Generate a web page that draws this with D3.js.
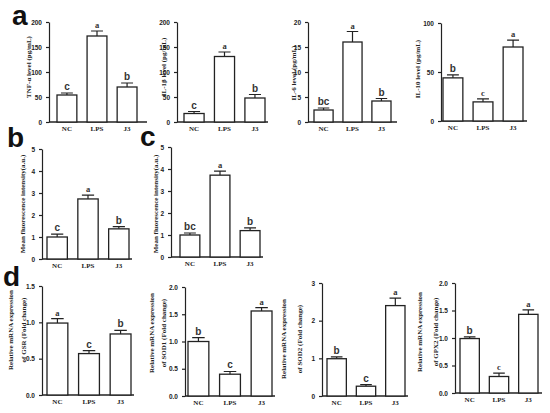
<!DOCTYPE html>
<html>
<head>
<meta charset="utf-8">
<script src="https://cdn.jsdelivr.net/npm/d3@7"></script>
<style>
  body { margin: 0; background: #fff; }
  svg { display: block; }
  .tick text { font-family: "Liberation Sans", Arial, sans-serif; font-weight: bold; font-size: 6.5px; fill: #222; }
  .domain, .tick line { stroke: #222; stroke-width: 1.2px; }
</style>
</head>
<body>
<div id="chart"></div>
<script>
// groups on every x axis
const groups = ['NC', 'LPS', 'J3']

// panel a: cytokines
const tnfMean = [54, 172, 70]
const tnfErr = [4, 10, 8]
const tnfSig = ['c', 'a', 'b']

const il1bMean = [17, 131, 48]
const il1bErr = [4, 9, 7]
const il1bSig = ['c', 'a', 'b']

const il6Mean = [2.4, 16, 4.2]
const il6Err = [0.4, 2.1, 0.5]
const il6Sig = ['bc', 'a', 'b']

const il10Mean = [44, 19.5, 75.5]
const il10Err = [3, 3, 7]
const il10Sig = ['b', 'c', 'a']

// panels b and c: fluorescence
const fluoBMean = [1.0, 2.73, 1.37]
const fluoBErr = [0.13, 0.17, 0.1]
const fluoBSig = ['c', 'a', 'b']

const fluoCMean = [1.0, 3.72, 1.2]
const fluoCErr = [0.09, 0.18, 0.12]
const fluoCSig = ['bc', 'a', 'b']

// panel d: mRNA
const gsrMean = [0.99, 0.57, 0.84]
const gsrErr = [0.06, 0.04, 0.05]
const gsrSig = ['a', 'c', 'b']

const sod1Mean = [1.0, 0.4, 1.56]
const sod1Err = [0.07, 0.05, 0.06]
const sod1Sig = ['b', 'c', 'a']

const sod2Mean = [0.99, 0.26, 2.4]
const sod2Err = [0.05, 0.04, 0.2]
const sod2Sig = ['b', 'c', 'a']

const gpx2Mean = [0.99, 0.3, 1.43]
const gpx2Err = [0.03, 0.06, 0.08]
const gpx2Sig = ['b', 'c', 'a']

// y tick values
const ticks200 = [0, 50, 100, 150, 200]
const ticks20 = [0, 5, 10, 15, 20]
const ticks100 = [0, 50, 100]
const ticks5 = [0, 1, 2, 3, 4, 5]
const ticks15 = [0, 0.5, 1.0, 1.5]
const ticks2 = [0, 0.5, 1.0, 1.5, 2.0]
const ticks3 = [0, 1, 2, 3]

// layout of each panel (pixels)
const panels = [
  { mean: tnfMean, err: tnfErr, sig: tnfSig, max: 200, ticks: ticks200, fmt: 'd',
    ax: 49, axEnd: 147, b0: 57, b1: 137, yTop: 22, yBot: 122,
    title: ['TNF-α level (pg/mL)'], tx: 29, ty: 67, lh: 0, serif: 'a' },
  { mean: il1bMean, err: il1bErr, sig: il1bSig, max: 200, ticks: ticks200, fmt: 'd',
    ax: 177, axEnd: 268, b0: 184, b1: 265, yTop: 22, yBot: 122,
    title: ['IL-1β level (pg/mL)'], tx: 164, ty: 67, lh: 0, serif: 'a' },
  { mean: il6Mean, err: il6Err, sig: il6Sig, max: 20, ticks: ticks20, fmt: 'd',
    ax: 308, axEnd: 397, b0: 314, b1: 391, yTop: 22, yBot: 122,
    title: ['IL-6 level (pg/mL)'], tx: 294, ty: 73, lh: 0, serif: 'a' },
  { mean: il10Mean, err: il10Err, sig: il10Sig, max: 100, ticks: ticks100, fmt: 'd',
    ax: 441, axEnd: 527, b0: 443, b1: 523, yTop: 23, yBot: 121,
    title: ['IL-10 level (pg/mL)'], tx: 418, ty: 69, lh: 0, serif: 'ac' },
  { mean: fluoBMean, err: fluoBErr, sig: fluoBSig, max: 5, ticks: ticks5, fmt: 'd',
    ax: 42, axEnd: 132, b0: 47, b1: 129, yTop: 149, yBot: 259,
    title: ['Mean fluorescence intensity(a.u.)'], tx: 23, ty: 204, lh: 0, serif: 'a' },
  { mean: fluoCMean, err: fluoCErr, sig: fluoCSig, max: 5, ticks: ticks5, fmt: 'd',
    ax: 171, axEnd: 263, b0: 180, b1: 260, yTop: 147, yBot: 257,
    title: ['Mean fluorescence intensity(a.u.)'], tx: 156, ty: 204, lh: 0, serif: 'a' },
  { mean: gsrMean, err: gsrErr, sig: gsrSig, max: 1.5, ticks: ticks15, fmt: '.1f',
    ax: 42, axEnd: 134, b0: 47, b1: 131, yTop: 286, yBot: 395,
    title: ['Relative mRNA expression', 'of GSR (Fold change)'], tx: 17, ty: 330, lh: 13, serif: 'a' },
  { mean: sod1Mean, err: sod1Err, sig: sod1Sig, max: 2, ticks: ticks2, fmt: '.1f',
    ax: 185, axEnd: 275, b0: 188, b1: 272, yTop: 287, yBot: 396,
    title: ['Relative mRNA expression', 'of SOD1 (Fold change)'], tx: 158, ty: 333, lh: 12, serif: 'a' },
  { mean: sod2Mean, err: sod2Err, sig: sod2Sig, max: 3, ticks: ticks3, fmt: 'd',
    ax: 322, axEnd: 408, b0: 327, b1: 405, yTop: 283, yBot: 396,
    title: ['Relative mRNA expression', 'of SOD2 (Fold change)'], tx: 292, ty: 339, lh: 16, serif: 'a' },
  { mean: gpx2Mean, err: gpx2Err, sig: gpx2Sig, max: 2, ticks: ticks2, fmt: '.1f',
    ax: 455, axEnd: 542, b0: 460, b1: 538, yTop: 283, yBot: 393,
    title: ['Relative mRNA expression', 'of GPX2 (Fold change)'], tx: 428, ty: 332, lh: 16, serif: 'ac' }
]

const letters = [
  { t: 'a', x: 12, y: 25 },
  { t: 'b', x: 7, y: 147 },
  { t: 'c', x: 140, y: 146 },
  { t: 'd', x: 3, y: 286 }
]

const SANS = '"Liberation Sans", Arial, sans-serif'
const SERIF = '"Liberation Serif", "Times New Roman", serif'

const svg = d3.select('#chart').append('svg')
    .attr('width', 550)
    .attr('height', 413)

function drawPanel (p) {
  const g = svg.append('g')
  const y = d3.scaleLinear().domain([0, p.max]).range([p.yBot, p.yTop])
  const x = d3.scaleBand().domain(groups).range([p.b0, p.b1]).paddingInner(0.34)
  const rows = groups.map((k, i) => ({ k, m: p.mean[i], e: p.err[i], s: p.sig[i] }))
  const isSerif = s => s.length === 1 && p.serif.includes(s)

  // y axis
  g.append('g')
      .attr('transform', `translate(${p.ax},0)`)
      .call(d3.axisLeft(y).tickValues(p.ticks).tickSize(3).tickSizeOuter(0).tickFormat(d3.format(p.fmt)))
      .call(a => a.selectAll('.tick text').attr('dx', '-1'))

  // x axis line
  g.append('line')
      .attr('x1', p.ax).attr('x2', p.axEnd)
      .attr('y1', y(0)).attr('y2', y(0))
      .attr('stroke', '#222').attr('stroke-width', 1.3)

  // error bars (drawn first so the bar outline sits on top)
  const cap = x.bandwidth() * 0.6
  g.selectAll('.err')
    .data(rows)
    .join('path')
      .attr('class', 'err')
      .attr('fill', 'none')
      .attr('stroke', '#222')
      .attr('stroke-width', 1.2)
      .attr('d', d => {
        const cx = x(d.k) + x.bandwidth() / 2
        return `M${cx},${y(d.m)}V${y(d.m + d.e)}M${cx - cap / 2},${y(d.m + d.e)}H${cx + cap / 2}`
      })

  g.selectAll('.bar')
    .data(rows)
    .join('rect')
      .attr('class', 'bar')
      .attr('x', d => x(d.k))
      .attr('y', d => y(d.m))
      .attr('width', x.bandwidth())
      .attr('height', d => y(0) - y(d.m))
      .attr('fill', '#fff')
      .attr('stroke', '#222')
      .attr('stroke-width', 1.3)

  // significance letters
  g.selectAll('.sig')
    .data(rows)
    .join('text')
      .attr('class', 'sig')
      .attr('x', d => x(d.k) + x.bandwidth() / 2)
      .attr('y', d => y(d.m + d.e) - 3)
      .attr('text-anchor', 'middle')
      .attr('fill', '#333')
      .style('font-family', d => isSerif(d.s) ? SERIF : SANS)
      .style('font-weight', 'bold')
      .style('font-size', d => isSerif(d.s) ? '8.5px' : '10px')
      .text(d => d.s)

  // group labels
  g.selectAll('.grp')
    .data(rows)
    .join('text')
      .attr('class', 'grp')
      .attr('x', d => x(d.k) + x.bandwidth() / 2)
      .attr('y', y(0) + 9)
      .attr('text-anchor', 'middle')
      .attr('fill', '#222')
      .style('font-family', SERIF)
      .style('font-weight', 'bold')
      .style('font-size', '7px')
      .text(d => d.k)

  // y title, one or two rotated lines
  const n = p.title.length
  g.selectAll('.ytitle')
    .data(p.title)
    .join('text')
      .attr('class', 'ytitle')
      .attr('transform', (t, i) => `translate(${p.tx + (i - (n - 1) / 2) * p.lh},${p.ty}) rotate(-90)`)
      .attr('text-anchor', 'middle')
      .attr('dy', '0.35em')
      .attr('fill', '#222')
      .style('font-family', SERIF)
      .style('font-weight', 'bold')
      .style('font-size', '7px')
      .text(t => t)
}

panels.forEach(drawPanel)

svg.selectAll('.plabel')
  .data(letters)
  .join('text')
    .attr('class', 'plabel')
    .attr('x', d => d.x)
    .attr('y', d => d.y)
    .attr('fill', '#111')
    .style('font-family', SANS)
    .style('font-weight', 'bold')
    .style('font-size', '28px')
    .text(d => d.t)
</script>
</body>
</html>
